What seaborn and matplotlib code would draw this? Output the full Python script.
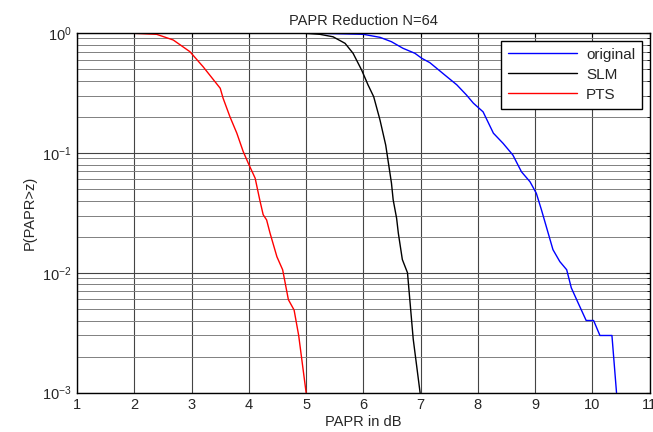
import numpy as np
import pandas as pd
import matplotlib
matplotlib.use('Agg')
import matplotlib.pyplot as plt
import seaborn as sns

# 数据
orig_x = [5.0, 6.0, 6.29, 6.49, 6.69, 6.90, 7.02, 7.16, 7.42, 7.63, 7.80, 7.92, 8.09, 8.27,
          8.44, 8.61, 8.76, 8.91, 9.02, 9.11, 9.31, 9.43, 9.55, 9.63, 9.75, 9.89, 10.02,
          10.13, 10.34, 10.42]
orig_y = [1.0, 0.975, 0.92, 0.846, 0.746, 0.677, 0.615, 0.566, 0.447, 0.37, 0.304, 0.26, 0.22,
          0.146, 0.12, 0.096, 0.0696, 0.0574, 0.046, 0.0334, 0.0156, 0.0124, 0.0106, 0.0075,
          0.0056, 0.004, 0.004, 0.003, 0.003, 0.001]

slm_x = [4.9, 5.24, 5.47, 5.68, 5.82, 5.97, 6.08, 6.18, 6.29, 6.39, 6.49, 6.52, 6.58, 6.61,
         6.68, 6.77, 6.87, 6.99]
slm_y = [1.0, 0.975, 0.93, 0.82, 0.677, 0.49, 0.37, 0.294, 0.188, 0.116, 0.056, 0.0406,
         0.0285, 0.0214, 0.0129, 0.01, 0.0028, 0.001]

pts_x = [1.87, 2.39, 2.68, 2.97, 3.20, 3.50, 3.55, 3.67, 3.79, 3.90, 3.99, 4.11, 4.19, 4.25,
         4.31, 4.37, 4.49, 4.59, 4.69, 4.79, 4.87, 5.0]
pts_y = [1.0, 0.975, 0.874, 0.699, 0.524, 0.346, 0.286, 0.2, 0.146, 0.103, 0.082, 0.0615,
         0.0406, 0.0305, 0.0276, 0.0214, 0.0136, 0.0106, 0.00597, 0.00489, 0.0030, 0.001]

names = ['original', 'SLM', 'PTS']
colors = ['blue', 'black', 'red']

sns.set_style('white')
plt.rcParams['font.family'] = ['Liberation Sans', 'DejaVu Sans']
plt.rcParams['mathtext.fontset'] = 'custom'
plt.rcParams['mathtext.rm'] = 'Liberation Sans'

fig = plt.figure(figsize=(6.53, 4.32), dpi=100)
ax = fig.add_axes([0.118, 0.091, 0.877, 0.8326])

for nm, xs, ys, c in zip(names, [orig_x, slm_x, pts_x], [orig_y, slm_y, pts_y], colors):
    sns.lineplot(x=xs, y=ys, color=c, lw=1.0, label=nm, ax=ax, sort=False)

ax.set_yscale('log')
ax.set_xlim(1, 11)
ax.set_ylim(1e-3, 1)
ax.set_xticks(range(1, 12))

# MATLAB 风格网格
ax.grid(True, which='major', color='#444444', lw=0.8, ls='-')
ax.grid(True, which='minor', axis='y', color='#808080', lw=0.7, ls='-')
ax.set_axisbelow(True)

for s in ax.spines.values():
    s.set_color('black')
    s.set_linewidth(1.0)
ax.tick_params(which='both', direction='in', top=True, right=True, labelsize=10.5,
               length=3, color='black', pad=4)
ax.tick_params(which='minor', length=2)

ax.set_title('PAPR Reduction N=64', fontsize=10.5, pad=6)
ax.set_xlabel('PAPR in dB', fontsize=10.5, labelpad=2)
ax.set_ylabel('P(PAPR>z)', fontsize=10.5, labelpad=4)

leg = ax.legend(loc='upper right', fontsize=11, frameon=True, fancybox=False,
                edgecolor='black', handlelength=4.5, borderaxespad=0.5,
                labelspacing=0.4, borderpad=0.45, handletextpad=0.6)
leg.get_frame().set_linewidth(1.0)
leg.get_frame().set_alpha(1)

fig.savefig('out.png', dpi=100)
